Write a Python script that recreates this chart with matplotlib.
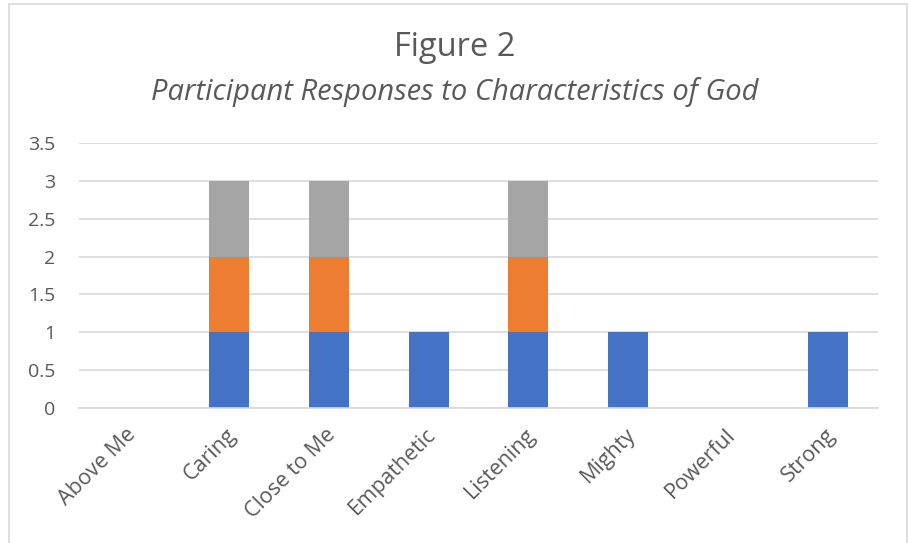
import matplotlib
matplotlib.use("Agg")
import matplotlib.pyplot as plt
from matplotlib.patches import Rectangle
import matplotlib.transforms as mtransforms
import numpy as np

categories = ["Above Me", "Caring", "Close to Me", "Empathetic",
              "Listening", "Mighty", "Powerful", "Strong"]
series1 = [0, 1, 1, 1, 1, 1, 0, 1]
series2 = [0, 1, 1, 0, 1, 0, 0, 0]
series3 = [0, 1, 1, 0, 1, 0, 0, 0]
yticks = [0, 0.5, 1, 1.5, 2, 2.5, 3, 3.5]
ytick_labels = ["0", "0.5", "1", "1.5", "2", "2.5", "3", "3.5"]

colors = ["#4472C4", "#ED7D31", "#A5A5A5"]
text_gray = "#595959"
font = "Open Sans"

W, H = 909, 543
fig = plt.figure(figsize=(W / 100, H / 100), dpi=100)
fig.patch.set_facecolor("white")

# chart border
fig.add_artist(Rectangle((9 / W, -0.05), (907 - 9) / W, 1.05 - 4 / H,
                         transform=fig.transFigure, fill=False,
                         edgecolor="#D9D9D9", linewidth=1.2))

ax = fig.add_axes([79 / W, 1 - 408 / H, (878 - 79) / W, (408 - 143) / H])

x = np.arange(len(categories))
s1 = np.array(series1)
s2 = np.array(series2)
s3 = np.array(series3)
w = 0.4
ax.bar(x, s1, w, color=colors[0], zorder=3)
ax.bar(x, s2, w, bottom=s1, color=colors[1], zorder=3)
ax.bar(x, s3, w, bottom=s1 + s2, color=colors[2], zorder=3)

ax.set_xlim(-0.5, len(categories) - 0.5)
ax.set_ylim(0, 3.5)
ax.set_yticks(yticks)
ax.set_yticklabels(ytick_labels, fontsize=14, color=text_gray, family=font)
ax.yaxis.grid(True, color="#D9D9D9", linewidth=1.2, zorder=0)
ax.tick_params(axis="both", length=0)
ax.tick_params(axis="y", pad=17)
for side in ["top", "right", "left"]:
    ax.spines[side].set_visible(False)
ax.spines["bottom"].set_color("#D9D9D9")
ax.spines["bottom"].set_linewidth(1.2)
ax.spines["bottom"].set_zorder(4)

ax.set_xticks(x)
ax.set_xticklabels(categories, rotation=45, ha="right", va="center",
                   rotation_mode="anchor", fontsize=15.5, color=text_gray,
                   family=font)
ax.tick_params(axis="x", pad=17)
shift = mtransforms.ScaledTranslation(4 / 100, 0, fig.dpi_scale_trans)
for lbl in ax.get_xticklabels():
    lbl.set_transform(lbl.get_transform() + shift)

fig.text(0.5, 1 - 48 / H, "Figure 2", ha="center", va="center",
         fontsize=23.5, color=text_gray, family=font)
fig.text(0.5, 1 - 92 / H, "Participant Responses to Characteristics of God",
         ha="center", va="center", fontsize=21, style="italic",
         color=text_gray, family=font)

fig.savefig("out.png", dpi=100)
